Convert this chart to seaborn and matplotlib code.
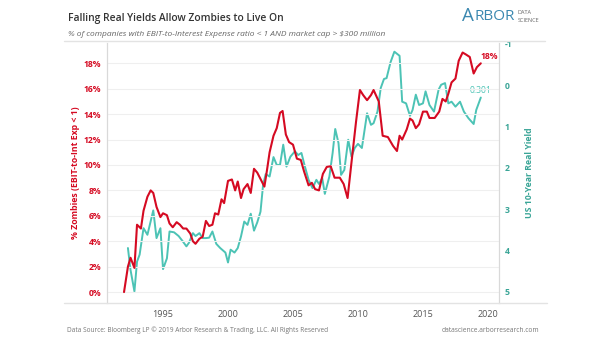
import matplotlib
matplotlib.use("Agg")
import matplotlib.pyplot as plt
import seaborn as sns
import pandas as pd
from matplotlib.lines import Line2D
from matplotlib.ticker import FuncFormatter

# ---------------- data ----------------
zombie_year = [1992.0, 1992.3, 1992.5, 1992.8, 1993.0, 1993.3, 1993.5, 1993.8, 1994.05, 1994.25,
               1994.5, 1994.8, 1995.0, 1995.3, 1995.5, 1995.75, 1996.05, 1996.3, 1996.55, 1996.8,
               1997.1, 1997.3, 1997.5, 1997.8, 1998.05, 1998.3, 1998.55, 1998.8, 1999.0, 1999.25,
               1999.5, 1999.7, 2000.0, 2000.3, 2000.55, 2000.75, 2001.0, 2001.2, 2001.5, 2001.75,
               2002.0, 2002.25, 2002.5, 2002.8, 2003.0, 2003.2, 2003.5, 2003.75, 2004.0, 2004.2,
               2004.45, 2004.7, 2005.0, 2005.3, 2005.6, 2005.85, 2006.2, 2006.45, 2006.7, 2007.0,
               2007.3, 2007.6, 2007.9, 2008.2, 2008.6, 2008.9, 2009.2, 2009.5, 2009.85, 2010.15,
               2010.4, 2010.7, 2011.0, 2011.2, 2011.6, 2011.9, 2012.3, 2012.7, 2013.0, 2013.2,
               2013.4, 2013.75, 2014.0, 2014.2, 2014.45, 2014.7, 2015.0, 2015.3, 2015.5, 2015.9,
               2016.25, 2016.5, 2016.75, 2016.95, 2017.2, 2017.5, 2017.75, 2018.05, 2018.3, 2018.6,
               2018.9, 2019.15, 2019.45]
zombie_pct = [0.0, 2.0, 2.7, 1.9, 5.3, 5.0, 6.4, 7.5, 8.0, 7.8,
              6.7, 5.9, 6.2, 6.05, 5.4, 5.1, 5.5, 5.3, 5.0, 5.0,
              4.6, 4.0, 3.8, 4.2, 4.35, 5.6, 5.2, 5.3, 6.2, 6.1,
              7.3, 7.0, 8.75, 8.86, 8.0, 8.7, 7.4, 8.1, 8.5, 7.8,
              9.7, 9.4, 8.9, 8.3, 9.6, 11.0, 12.3, 12.9, 14.1, 14.25,
              12.4, 11.8, 11.6, 10.5, 10.4, 9.5, 8.4, 8.6, 8.1, 8.0,
              9.3, 9.85, 9.9, 9.0, 9.0, 8.5, 7.4, 10.2, 13.4, 15.9,
              15.5, 15.1, 15.5, 15.9, 15.0, 12.3, 12.2, 11.5, 11.1, 12.3,
              12.0, 12.8, 13.65, 13.5, 12.9, 13.2, 14.2, 14.2, 13.7, 13.7,
              14.2, 15.2, 15.0, 15.6, 16.5, 16.8, 18.2, 18.85, 18.7, 18.5,
              17.2, 17.7, 18.0]

yield_year = [1992.3, 1992.5, 1992.8, 1993.0, 1993.2, 1993.5, 1993.8, 1994.25, 1994.5, 1994.8,
              1995.0, 1995.3, 1995.5, 1995.85, 1996.2, 1996.5, 1996.8, 1997.0, 1997.3, 1997.5,
              1997.8, 1998.05, 1998.3, 1998.55, 1998.8, 1999.1, 1999.4, 1999.8, 2000.0, 2000.2,
              2000.5, 2000.75, 2001.0, 2001.25, 2001.5, 2001.75, 2002.0, 2002.25, 2002.5, 2002.7,
              2002.9, 2003.2, 2003.5, 2003.75, 2004.0, 2004.25, 2004.5, 2004.8, 2005.15, 2005.4,
              2005.65, 2005.9, 2006.2, 2006.5, 2006.8, 2007.0, 2007.25, 2007.45, 2007.8, 2008.05,
              2008.25, 2008.5, 2008.7, 2008.95, 2009.25, 2009.5, 2009.75, 2010.0, 2010.3, 2010.7,
              2011.0, 2011.2, 2011.5, 2011.75, 2012.0, 2012.2, 2012.5, 2012.8, 2013.2, 2013.4,
              2013.7, 2014.0, 2014.2, 2014.45, 2014.7, 2015.0, 2015.2, 2015.5, 2015.85, 2016.2,
              2016.4, 2016.7, 2016.95, 2017.2, 2017.5, 2017.85, 2018.15, 2018.5, 2018.9, 2019.1,
              2019.45]
real_yield = [3.94, 4.47, 4.99, 4.27, 4.1, 3.46, 3.62, 3.03, 3.7, 3.46,
              4.45, 4.19, 3.54, 3.56, 3.65, 3.77, 3.9, 3.81, 3.58, 3.65,
              3.58, 3.7, 3.7, 3.69, 3.54, 3.84, 3.94, 4.05, 4.29, 3.98,
              4.05, 3.94, 3.66, 3.3, 3.38, 3.11, 3.52, 3.32, 3.06, 2.41,
              2.15, 2.21, 1.74, 1.93, 1.93, 1.44, 1.97, 1.73, 1.6, 1.69,
              1.64, 1.95, 2.29, 2.49, 2.29, 2.39, 2.25, 2.63, 2.21, 1.64,
              1.06, 1.4, 2.17, 2.05, 1.32, 1.73, 1.52, 1.42, 1.52, 0.68,
              0.96, 0.92, 0.64, 0.07, -0.15, -0.17, -0.55, -0.81, -0.71, 0.40,
              0.44, 0.74, 0.6, 0.23, 0.48, 0.44, 0.15, 0.48, 0.64, 0.11,
              -0.01, -0.05, 0.44, 0.40, 0.52, 0.4, 0.64, 0.80, 0.94, 0.6,
              0.30]

left_ticks = [0, 2, 4, 6, 8, 10, 12, 14, 16, 18]
right_ticks = [-1, 0, 1, 2, 3, 4, 5]
year_ticks = [1995, 2000, 2005, 2010, 2015, 2020]
last_zombie_label = "18%"
last_yield_label = "0.301"

title = "Falling Real Yields Allow Zombies to Live On"
subtitle = "% of companies with EBIT-to-Interest Expense ratio < 1 AND market cap > $300 million"
left_label = "% Zombies (EBIT-to-Int Exp < 1)"
right_label = "US 10-Year Real Yield"
footer_left = "Data Source: Bloomberg LP \u00a9 2019 Arbor Research & Trading, LLC. All Rights Reserved"
footer_right = "datascience.arborresearch.com"

# ---------------- style ----------------
RED = "#d50a22"
TEAL = "#4cc3b5"
TEAL_TXT = "#3aa597"
GRID = "#efefef"
SPINE = "#d9d9d9"

sns.set_theme(style="white")
plt.rcParams["font.family"] = ["Open Sans", "DejaVu Sans"]

W, H = 605, 341
fig = plt.figure(figsize=(W / 100, H / 100), dpi=100)
ax = fig.add_axes([107 / W, 1 - 303 / H, (499 - 107) / W, (303 - 43) / H])
ax2 = ax.twinx()

zdf = pd.DataFrame({"year": zombie_year, "pct": zombie_pct})
ydf = pd.DataFrame({"year": yield_year, "yield": real_yield})

sns.lineplot(data=ydf, x="year", y="yield", ax=ax2, color=TEAL, linewidth=1.4,
             estimator=None, sort=False)
sns.lineplot(data=zdf, x="year", y="pct", ax=ax, color=RED, linewidth=1.5,
             estimator=None, sort=False)
ax.set_zorder(ax2.get_zorder() + 1)
ax.patch.set_visible(False)

ax.set_xlim(1990.69, 2020.85)
ax.set_ylim(-0.86, 19.6)
ax2.set_ylim(5.27, -1.02)

ax.set_yticks(left_ticks)
ax.yaxis.set_major_formatter(FuncFormatter(lambda v, p: f"{int(v)}%"))
ax2.set_yticks(right_ticks)
ax2.set_yticklabels([str(t) for t in right_ticks])
ax.set_xticks(year_ticks)
ax.set_xticklabels([str(t) for t in year_ticks])

ax.tick_params(axis="y", length=0, pad=4, labelsize=6.2, labelcolor=RED)
for lab in ax.get_yticklabels():
    lab.set_fontweight("bold")
ax2.tick_params(axis="y", length=0, pad=4, labelsize=6.2, labelcolor=TEAL_TXT)
for lab in ax2.get_yticklabels():
    lab.set_fontweight("bold")
ax.tick_params(axis="x", length=0, pad=5, labelsize=6.5, labelcolor="#555555")
ax2.tick_params(axis="x", length=0)

ax.grid(axis="y", color=GRID, linewidth=0.8)
ax.grid(axis="x", visible=False)
ax2.grid(False)

for a in (ax, ax2):
    for s in ("top", "bottom"):
        a.spines[s].set_visible(False)
    a.spines["left"].set_color(SPINE)
    a.spines["right"].set_color(SPINE)
    a.spines["left"].set_linewidth(0.8)
    a.spines["right"].set_linewidth(0.8)

ax.set_xlabel("")
ax.set_ylabel(left_label, color=RED, fontsize=6.3, fontweight="bold", labelpad=3)
ax2.set_ylabel(right_label, color=TEAL_TXT, fontsize=6.3, fontweight="bold", labelpad=9)

# end labels
ax.annotate(last_zombie_label, xy=(zombie_year[-1], zombie_pct[-1]), xytext=(0, 5),
            textcoords="offset points", color=RED, fontsize=6.2, fontweight="bold",
            ha="left", va="center")
ax2.annotate(last_yield_label, xy=(yield_year[-1], real_yield[-1]), xytext=(0, 5),
             textcoords="offset points", color=TEAL, fontsize=6.2,
             ha="center", va="center")

# header / footer separator lines
fig.add_artist(Line2D([64 / W, 545 / W], [1 - 41 / H, 1 - 41 / H], color="#e3e3e3", linewidth=1.0))
fig.add_artist(Line2D([64 / W, 547 / W], [1 - 303 / H, 1 - 303 / H], color="#e3e3e3", linewidth=1.0))

# texts
fig.text(68 / W, 1 - 19 / H, title, fontsize=7.4, fontweight="semibold", color="#333333",
         ha="left", va="center")
fig.text(68 / W, 1 - 34 / H, subtitle, fontsize=6.0, color="#666666", style="italic",
         ha="left", va="center")
fig.text(462 / W, 1 - 16 / H, "A", fontsize=13.5, color="#3b88b0", ha="left", va="center")
fig.text(474 / W, 1 - 16.5 / H, "RBOR", fontsize=11, color="#3b88b0", ha="left", va="center")
fig.text(518 / W, 1 - 12 / H, "DATA", fontsize=4.0, color="#666666", ha="left", va="center")
fig.text(518 / W, 1 - 20 / H, "SCIENCE", fontsize=4.0, color="#666666", ha="left", va="center")
fig.text(67 / W, 1 - 330 / H, footer_left, fontsize=4.7, color="#777777", ha="left", va="center")
fig.text(539 / W, 1 - 330 / H, footer_right, fontsize=4.8, color="#777777", ha="right", va="center")

fig.savefig("out.png", dpi=100, facecolor="white")
